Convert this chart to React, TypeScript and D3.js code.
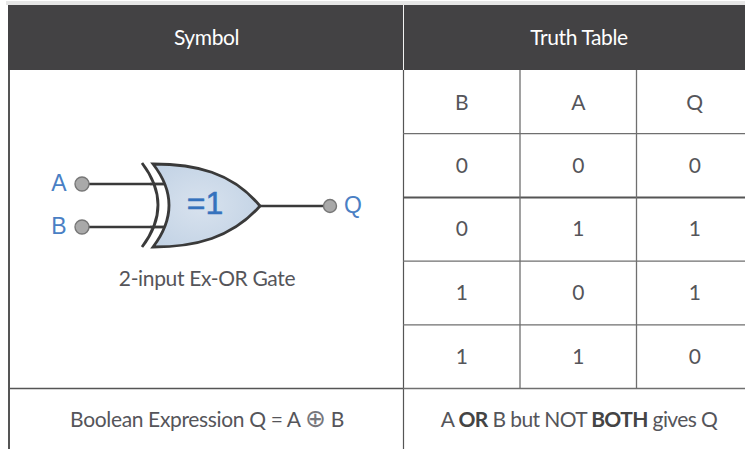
import React from "react";
import * as d3 from "d3";

const width = 745;
const height = 449;

const columnHeaders = ["Symbol", "Truth Table"];
const truthHeaders = ["B", "A", "Q"];
const truthRows = [
  [0, 0, 0],
  [0, 1, 1],
  [1, 0, 1],
  [1, 1, 0],
];
const gateInputs = ["A", "B"];
const gateOutput = "Q";
const gateSign = "=1";
const gateCaption = "2-input Ex-OR Gate";
const footerRight = [
  { text: "A ", bold: false },
  { text: "OR", bold: true },
  { text: " B but NOT ", bold: false },
  { text: "BOTH", bold: true },
  { text: " gives Q", bold: false },
];

const font = "Lato, sans-serif";
const textColor = "#55555a";
const lineColor = "#6f6f6f";
const blue = "#4a7fc4";
const wire = "#3a3a3a";

const rowKeys = ["head", "r0", "r1", "r2", "r3"];

const App: React.FC = () => {
  const colX = d3.scaleBand<string>().domain(truthHeaders).range([403.5, 753]);
  const rowY = d3.scaleBand<string>().domain(rowKeys).range([70, 388.5]);
  const inputY = d3.scalePoint<string>().domain(gateInputs).range([184, 227]);

  // gate outline
  const back = d3.path();
  back.moveTo(142, 163);
  back.quadraticCurveTo(174, 205, 142, 247);

  const body = d3.path();
  body.moveTo(153, 164);
  body.bezierCurveTo(195, 164, 232, 172, 260, 206);
  body.bezierCurveTo(232, 238, 195, 247, 153, 247);
  body.quadraticCurveTo(185, 205, 153, 164);
  body.closePath();

  const rowLine = (key: string, i: number) => {
    const y = (rowY(key) as number) + rowY.bandwidth();
    return (
      <line
        key={key}
        x1={403}
        x2={width}
        y1={y}
        y2={y}
        stroke={i === 1 ? "#555" : lineColor}
        strokeWidth={i === 1 ? 2 : 1.3}
      />
    );
  };

  return (
    <svg
      width={width}
      height={height}
      style={{ position: "absolute", left: 0, top: 0, background: "#fff" }}
      fontFamily={font}
    >
      <defs>
        <radialGradient id="gateFill" cx="0.45" cy="0.5" r="0.6">
          <stop offset="0" stopColor="#d8e2ee" />
          <stop offset="1" stopColor="#c3d3e5" />
        </radialGradient>
      </defs>

      <rect x={6} y={1} width={739} height={4} fill="#e6e6e6" />
      <rect x={8} y={5} width={737} height={65} fill="#434244" />
      <line x1={403.5} x2={403.5} y1={5} y2={70} stroke="#f2f2f2" strokeWidth={1} />
      <text x={206.5} y={45} textAnchor="middle" fontSize={21} fill="#fff" letterSpacing={-0.4}>
        {columnHeaders[0]}
      </text>
      <text x={579} y={45} textAnchor="middle" fontSize={21} fill="#fff" letterSpacing={-0.4}>
        {columnHeaders[1]}
      </text>

      {/* table borders */}
      <line x1={9} x2={9} y1={70} y2={449} stroke="#555" strokeWidth={2} />
      <line x1={403.5} x2={403.5} y1={70} y2={449} stroke="#555" strokeWidth={1.2} />
      <line x1={9} x2={403} y1={388.5} y2={388.5} stroke="#555" strokeWidth={1.3} />
      {rowKeys.map(rowLine)}
      {truthHeaders.slice(1).map((h) => (
        <line
          key={h}
          x1={colX(h)}
          x2={colX(h)}
          y1={70}
          y2={388}
          stroke={lineColor}
          strokeWidth={1.3}
        />
      ))}

      {/* truth table */}
      {truthHeaders.map((h) => (
        <text
          key={h}
          x={(colX(h) as number) + colX.bandwidth() / 2}
          y={(rowY("head") as number) + rowY.bandwidth() / 2 + 8}
          textAnchor="middle"
          fontSize={21}
          fill={textColor}
        >
          {h}
        </text>
      ))}
      {truthRows.map((row, i) =>
        row.map((v, j) => (
          <text
            key={`${i}-${j}`}
            x={(colX(truthHeaders[j]) as number) + colX.bandwidth() / 2}
            y={(rowY(rowKeys[i + 1]) as number) + rowY.bandwidth() / 2 + 7.2}
            textAnchor="middle"
            fontSize={21}
            fill={textColor}
          >
            {v}
          </text>
        ))
      )}

      {/* gate */}
      {gateInputs.map((name) => (
        <g key={name}>
          <line
            x1={82}
            x2={168}
            y1={inputY(name)}
            y2={inputY(name)}
            stroke={wire}
            strokeWidth={2.4}
          />
          <circle cx={82} cy={inputY(name)} r={7} fill="#a9a9a9" stroke="#777" strokeWidth={1.4} />
          <text
            x={59}
            y={(inputY(name) as number) + 7}
            textAnchor="middle"
            fontSize={23}
            fontFamily="Liberation Sans, sans-serif"
            fill={blue}
          >
            {name}
          </text>
        </g>
      ))}
      <path d={back.toString()} fill="none" stroke={wire} strokeWidth={2.8} />
      <path d={body.toString()} fill="url(#gateFill)" stroke={wire} strokeWidth={2.8} />
      {gateInputs.map((name) => (
        <line
          key={name}
          x1={150}
          x2={165}
          y1={inputY(name)}
          y2={inputY(name)}
          stroke={wire}
          strokeWidth={2.4}
        />
      ))}
      <text
        x={205}
        y={214}
        textAnchor="middle"
        fontSize={32}
        fontFamily="Liberation Sans, sans-serif"
        fill="#3572bd"
        stroke="#3572bd"
        strokeWidth={0.5}
      >
        {gateSign}
      </text>
      <line x1={260} x2={330} y1={206} y2={206} stroke={wire} strokeWidth={2.4} />
      <circle cx={330} cy={206} r={6.5} fill="#a9a9a9" stroke="#777" strokeWidth={1.4} />
      <text
        x={353}
        y={213}
        textAnchor="middle"
        fontSize={23}
        fontFamily="Liberation Sans, sans-serif"
        fill={blue}
      >
        {gateOutput}
      </text>
      <text x={207} y={286} textAnchor="middle" fontSize={21} fill={textColor} letterSpacing={-0.35}>
        {gateCaption}
      </text>

      {/* footer */}
      <text x={207} y={426.5} textAnchor="middle" fontSize={21} fill={textColor} letterSpacing={-0.35}>
        Boolean Expression Q = A{" "}
        <tspan fontFamily="DejaVu Sans, sans-serif" fontSize={25} fill="#77777c">⊕</tspan> B
      </text>
      <text x={579} y={426.5} textAnchor="middle" fontSize={21} fill={textColor} letterSpacing={-0.6}>
        {footerRight.map((part, i) => (
          <tspan key={i} fontWeight={part.bold ? 700 : 400} fill={part.bold ? "#444" : textColor}>
            {part.text}
          </tspan>
        ))}
      </text>
    </svg>
  );
};

export default App;
